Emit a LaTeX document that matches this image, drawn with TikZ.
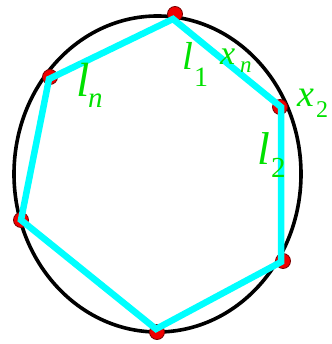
\documentclass[tikz,border=0pt]{standalone}
\usepackage{fontspec}
\setmainfont{Liberation Serif}
\definecolor{lblgreen}{RGB}{0,225,0}
\definecolor{polycyan}{RGB}{0,255,255}
\definecolor{dotred}{RGB}{240,0,0}
\definecolor{dotedge}{RGB}{120,0,0}
\tikzset{
  curve/.style={draw=black, line width=3.6pt},
  poly/.style={draw=polycyan, line width=6.5pt, line join=miter},
  vdot/.style={circle, fill=dotred, draw=dotedge, line width=0.8pt, minimum size=15pt, inner sep=0pt},
  lbl/.style={text=lblgreen, inner sep=0pt, anchor=base west},
}
\newcommand{\fsz}[1]{\fontsize{#1}{#1}\selectfont}
\begin{document}
\begin{tikzpicture}[x=1pt,y=-1pt]
\useasboundingbox (0,0) rectangle (331,344);
\fill[white] (0,0) rectangle (331,344);
% circumscribing curve
\draw[curve] (157.5,174) ellipse [x radius=143.5, y radius=158];
% vertices
\coordinate (A) at (173,19);
\coordinate (B) at (49,79);
\coordinate (C) at (21,220);
\coordinate (D) at (156,329);
\coordinate (E) at (281,262);
\coordinate (F) at (281,107);
% red points
\node[vdot] (pA) at (175,14) {};
\node[vdot] (pB) at (50,77) {};
\node[vdot] (pC) at (21,220) {};
\node[vdot] (pD) at (157,332) {};
\node[vdot] (pE) at (283,261) {};
\node[vdot] (pF) at (280,107) {};
% polygon
\draw[poly] (A) -- (F) -- (E) -- (D) -- (C) -- (B) -- cycle;
% labels
\node[lbl] (ln) at (76,97) {\fsz{48}\itshape l};
\node[lbl] (lnsub) at (88,108) {\fsz{29}\itshape n};
\node[lbl] (l1) at (182,70) {\fsz{39}\itshape l};
\node[lbl] (l1sub) at (194,87) {\fsz{28}1};
\node[lbl] (xn) at (220,65) {\fsz{34}\itshape x};
\node[lbl] (xnsub) at (240,73) {\fsz{23}\itshape n};
\node[lbl] (x2) at (297,107) {\fsz{38}\itshape x};
\node[lbl] (x2sub) at (316,118) {\fsz{24}2};
\node[lbl] (l2) at (257,165) {\fsz{46}\itshape l};
\node[lbl] (l2sub) at (271,178) {\fsz{29}2};
\end{tikzpicture}
\end{document}
